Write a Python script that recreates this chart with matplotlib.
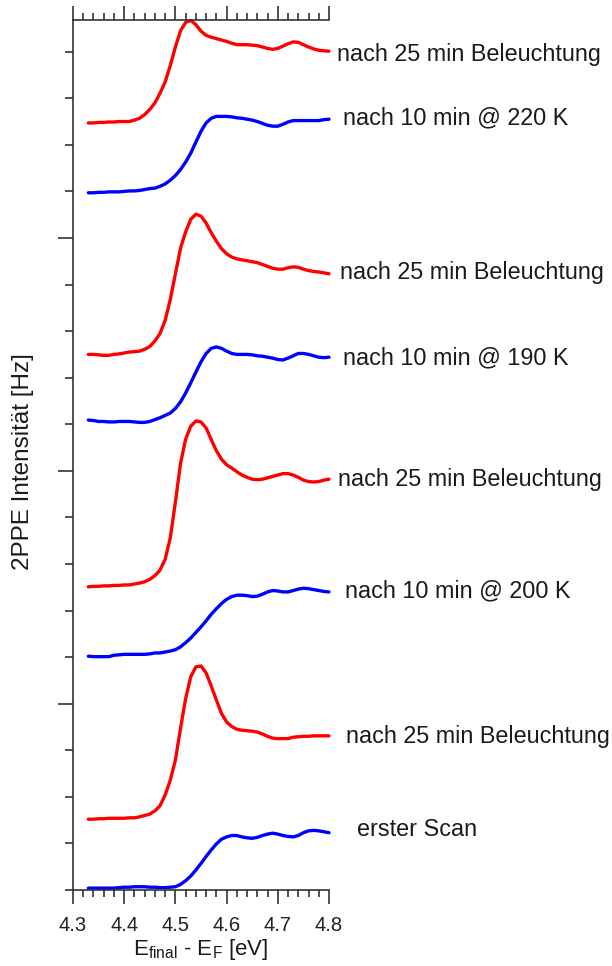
import numpy as np
import matplotlib
matplotlib.use("Agg")
import matplotlib.pyplot as plt
from matplotlib.ticker import MultipleLocator, FixedLocator

plt.rcParams["font.family"] = ["Liberation Sans", "DejaVu Sans"]
plt.rcParams["mathtext.default"] = "regular"

# energy grid shared by all spectra (eV)
e_final = np.linspace(4.33, 4.80, 48)

# offset 2PPE spectra, bottom to top (arbitrary units, offset per scan)
erster_scan = [
    0.04, 0.04, 0.04, 0.04, 0.04, 0.04, 0.05, 0.06,
    0.06, 0.07, 0.07, 0.07, 0.06, 0.06, 0.05, 0.05,
    0.06, 0.07, 0.12, 0.20, 0.30, 0.43, 0.57, 0.72,
    0.86, 0.99, 1.09, 1.14, 1.17, 1.17, 1.14, 1.12,
    1.11, 1.13, 1.17, 1.20, 1.22, 1.20, 1.17, 1.15,
    1.14, 1.17, 1.23, 1.27, 1.28, 1.27, 1.25, 1.23]
bel_1 = [
    1.52, 1.52, 1.53, 1.53, 1.54, 1.54, 1.54, 1.54,
    1.55, 1.55, 1.57, 1.60, 1.63, 1.70, 1.81, 2.04,
    2.36, 2.79, 3.47, 4.11, 4.58, 4.79, 4.81, 4.66,
    4.38, 4.08, 3.79, 3.61, 3.51, 3.45, 3.43, 3.42,
    3.41, 3.39, 3.35, 3.30, 3.26, 3.25, 3.25, 3.25,
    3.28, 3.29, 3.30, 3.30, 3.31, 3.31, 3.31, 3.31]
k200 = [
    5.02, 5.01, 5.01, 5.01, 5.01, 5.04, 5.05, 5.06,
    5.06, 5.06, 5.06, 5.06, 5.07, 5.09, 5.09, 5.11,
    5.13, 5.16, 5.22, 5.31, 5.41, 5.53, 5.65, 5.78,
    5.92, 6.04, 6.15, 6.24, 6.30, 6.33, 6.33, 6.32,
    6.30, 6.31, 6.35, 6.40, 6.43, 6.42, 6.40, 6.40,
    6.43, 6.46, 6.48, 6.47, 6.45, 6.43, 6.41, 6.40]
bel_2 = [
    6.51, 6.52, 6.52, 6.53, 6.53, 6.54, 6.54, 6.55,
    6.55, 6.57, 6.59, 6.62, 6.67, 6.75, 6.87, 7.10,
    7.56, 8.33, 9.16, 9.68, 9.96, 10.07, 10.05, 9.92,
    9.67, 9.43, 9.25, 9.13, 9.06, 8.98, 8.91, 8.86,
    8.82, 8.81, 8.82, 8.85, 8.88, 8.91, 8.94, 8.94,
    8.91, 8.86, 8.80, 8.77, 8.76, 8.77, 8.80, 8.82]
k190 = [
    10.09, 10.08, 10.06, 10.06, 10.05, 10.05, 10.06, 10.06,
    10.06, 10.05, 10.04, 10.04, 10.06, 10.10, 10.14, 10.19,
    10.24, 10.34, 10.48, 10.67, 10.89, 11.12, 11.34, 11.52,
    11.63, 11.66, 11.63, 11.57, 11.52, 11.50, 11.50, 11.50,
    11.49, 11.47, 11.46, 11.44, 11.42, 11.39, 11.38, 11.42,
    11.47, 11.52, 11.52, 11.50, 11.47, 11.44, 11.43, 11.44]
bel_3 = [
    11.50, 11.50, 11.49, 11.48, 11.48, 11.50, 11.51, 11.53,
    11.55, 11.56, 11.57, 11.61, 11.67, 11.79, 11.95, 12.23,
    12.68, 13.23, 13.78, 14.13, 14.40, 14.51, 14.47, 14.32,
    14.11, 13.93, 13.77, 13.66, 13.59, 13.55, 13.53, 13.51,
    13.49, 13.47, 13.43, 13.39, 13.35, 13.33, 13.33, 13.36,
    13.38, 13.37, 13.33, 13.30, 13.28, 13.27, 13.25, 13.23]
k220 = [
    14.97, 14.97, 14.98, 14.98, 14.99, 14.99, 14.99, 15.00,
    15.01, 15.01, 15.02, 15.04, 15.06, 15.07, 15.11, 15.16,
    15.24, 15.34, 15.47, 15.63, 15.82, 16.06, 16.29, 16.47,
    16.57, 16.61, 16.61, 16.61, 16.60, 16.58, 16.57, 16.55,
    16.53, 16.50, 16.46, 16.42, 16.40, 16.40, 16.44, 16.49,
    16.52, 16.52, 16.52, 16.52, 16.52, 16.52, 16.54, 16.55]
bel_4 = [
    16.47, 16.47, 16.48, 16.48, 16.49, 16.49, 16.50, 16.50,
    16.50, 16.53, 16.57, 16.65, 16.76, 16.90, 17.11, 17.35,
    17.70, 18.10, 18.45, 18.63, 18.67, 18.58, 18.44, 18.35,
    18.31, 18.28, 18.25, 18.22, 18.18, 18.15, 18.15, 18.15,
    18.14, 18.13, 18.10, 18.07, 18.05, 18.07, 18.12, 18.17,
    18.21, 18.20, 18.15, 18.10, 18.06, 18.03, 18.02, 18.01]

spectra = [erster_scan, bel_1, k200, bel_2, k190, bel_3, k220, bel_4]
colors = ["#0000ff", "#ff0000"] * 4
labels = ["erster Scan", "nach 25 min Beleuchtung",
          "nach 10 min @ 200 K", "nach 25 min Beleuchtung",
          "nach 10 min @ 190 K", "nach 25 min Beleuchtung",
          "nach 10 min @ 220 K", "nach 25 min Beleuchtung"]
# where each label sits (x, baseline y) in data coords
label_pos = [(4.855, 1.16), (4.833, 3.15), (4.831, 6.29), (4.818, 8.67),
             (4.827, 11.29), (4.821, 13.11), (4.827, 16.44), (4.816, 17.80)]

fig = plt.figure(figsize=(6.12, 9.66), dpi=100)
ax = fig.add_axes([73 / 612, 76 / 966, 256 / 612, 870 / 966])

for y, c in zip(spectra, colors):
    ax.plot(e_final, y, color=c, lw=2.4, solid_capstyle="round",
            solid_joinstyle="round", clip_on=False)
for (lx, ly), txt in zip(label_pos, labels):
    ax.text(lx, ly, txt, fontsize=16.8, va="baseline", ha="left",
            color="#1a1a1a", clip_on=False)

ax.set_xlim(4.3, 4.8)
ax.set_ylim(0, 18.68)
ax.xaxis.set_major_locator(MultipleLocator(0.1))
ax.xaxis.set_minor_locator(MultipleLocator(0.02))
ax.yaxis.set_major_locator(FixedLocator([4, 9, 14]))
ax.yaxis.set_minor_locator(MultipleLocator(1))

ax.spines["right"].set_visible(False)
for s in ("left", "top", "bottom"):
    ax.spines[s].set_color("#333333")
    ax.spines[s].set_linewidth(1.2)

ax.tick_params(axis="x", which="both", direction="out", top=True, bottom=True,
               labeltop=False, color="#333333", width=1.2, labelsize=14.5,
               labelcolor="#222222", pad=9)
ax.tick_params(axis="x", which="major", length=10)
ax.tick_params(axis="x", which="minor", length=5)
ax.tick_params(axis="y", which="both", direction="out", left=True, right=False,
               labelleft=False, color="#333333", width=1.2)
ax.tick_params(axis="y", which="major", length=11)
ax.tick_params(axis="y", which="minor", length=6)

ax.set_xlabel(r"E$_{final}$ - E$_{F}$ [eV]", fontsize=16, color="#1a1a1a")
ax.xaxis.set_label_coords(0.5, -0.054)
ax.set_ylabel("2PPE Intensität [Hz]", fontsize=17.5, color="#1a1a1a")
ax.yaxis.set_label_coords(-0.152, 0.4925)

fig.savefig("out.png", dpi=100)
